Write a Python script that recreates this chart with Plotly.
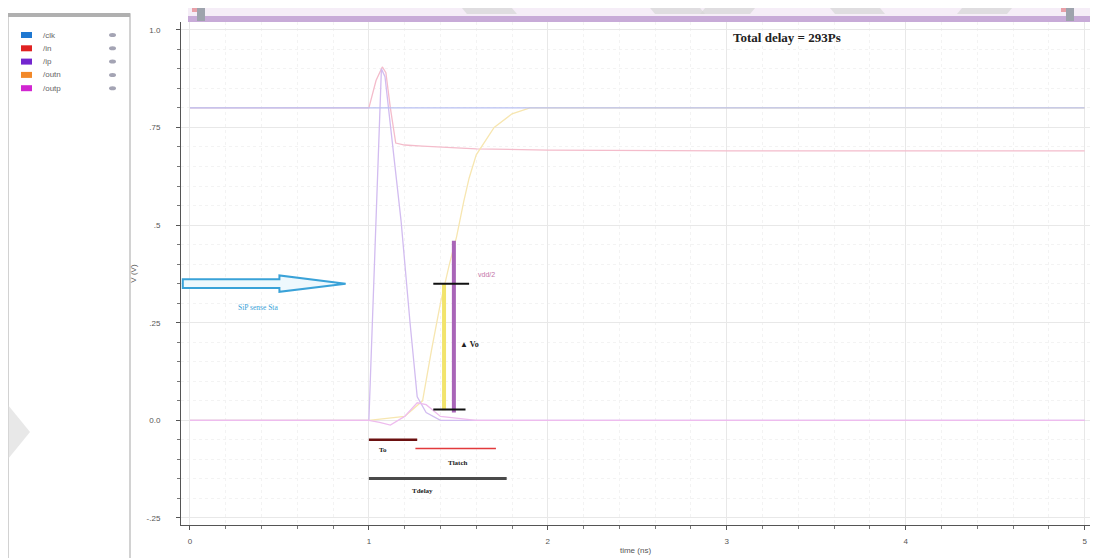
import plotly.graph_objects as go

# ---------------- data ----------------
names = ["/clk", "/in", "/ip", "/outn", "/outp"]
legend_colors = ["#1f78d1", "#e02222", "#7326cf", "#f2892a", "#d126d1"]
trace_colors = ["#b9c0f2", "#f4bccb", "#d2bcf0", "#f7e6b0", "#eebcee"]

t_clk = [0.0, 1.0, 1.1, 2.0, 5.0]
v_clk = [0.8, 0.8, 0.8, 0.8, 0.8]

t_in = [0.0, 1.0, 1.04, 1.075, 1.095, 1.12, 1.15, 1.2, 1.3, 1.6, 2.0, 3.0, 5.0]
v_in = [0.8, 0.8, 0.87, 0.905, 0.89, 0.80, 0.71, 0.705, 0.702, 0.695, 0.692, 0.69, 0.69]

t_ip = [0.0, 0.99, 1.0, 1.035, 1.07, 1.09, 1.13, 1.18, 1.23, 1.27, 1.32, 1.4, 5.0]
v_ip = [0.0, 0.0, 0.0, 0.45, 0.9, 0.88, 0.72, 0.51, 0.25, 0.06, 0.02, 0.0, 0.0]

t_outn = [0.0, 1.0, 1.2, 1.3, 1.35, 1.4, 1.45, 1.49, 1.53, 1.56, 1.6, 1.7, 1.8, 1.9, 2.0, 5.0]
v_outn = [0.0, 0.0, 0.01, 0.05, 0.18, 0.30, 0.40, 0.47, 0.56, 0.62, 0.68, 0.75, 0.785, 0.8, 0.8, 0.8]

t_outp = [0.0, 1.0, 1.06, 1.12, 1.2, 1.27, 1.32, 1.4, 1.6, 5.0]
v_outp = [0.0, 0.0, -0.005, -0.012, 0.01, 0.045, 0.04, 0.01, 0.0, 0.0]

series_t = [t_clk, t_in, t_ip, t_outn, t_outp]
series_v = [v_clk, v_in, v_ip, v_outn, v_outp]
draw_order = [1, 3, 2, 4, 0]   # /clk drawn last so the 0.8 V level shows its colour

y_tickvals = [-0.25, 0.0, 0.25, 0.5, 0.75, 1.0]
y_ticktext = ["-.25", "0.0", ".25", ".5", ".75", "1.0"]
x_tickvals = [0, 1, 2, 3, 4, 5]
x_ticktext = ["0", "1", "2", "3", "4", "5"]

# measurement marks (time ns, volts)
vbar_t = [1.42, 1.475]
vbar_v0 = [0.026, 0.02]
vbar_v1 = [0.35, 0.46]
vbar_col = ["#f2e46c", "#a965b8"]

hmark_v = [0.35, 0.028]
hmark_t0 = [1.36, 1.36]
hmark_t1 = [1.56, 1.54]

span_names = ["To", "Tlatch", "Tdelay"]
span_v = [-0.05, -0.072, -0.149]
span_t0 = [1.0, 1.26, 1.0]
span_t1 = [1.27, 1.71, 1.77]
span_col = ["#6b1010", "#e23a3c", "#4a4a4a"]
span_w = [2.5, 1.5, 3]
span_label_t = [1.08, 1.50, 1.30]
span_label_v = [-0.076, -0.108, -0.18]

# ---------------- figure ----------------
OFF = 8                      # page body margin
W, H = 1105 - OFF, 558 - OFF
L, R, T, B = 181, 1090, 22, 525   # plot area in page pixels


def px(xp):
    return (xp - L) / (R - L)


def py(yp):
    return (B - yp) / (B - T)


fig = go.Figure()
for i in draw_order:
    fig.add_trace(go.Scatter(x=series_t[i], y=series_v[i], mode="lines", name=names[i],
                             line=dict(color=trace_colors[i], width=1.3), showlegend=False,
                             hoverinfo="skip"))

shapes = []
annotations = []

# left legend panel
shapes.append(dict(type="rect", xref="paper", yref="paper",
                   x0=px(8), x1=px(130), y0=py(560), y1=py(14),
                   fillcolor="white", line=dict(color="#c4c4c4", width=1.5)))
shapes.append(dict(type="rect", xref="paper", yref="paper",
                   x0=px(8), x1=px(130), y0=py(17), y1=py(13),
                   fillcolor="#b0b0b0", line=dict(width=0)))

# top scroll/overview strip
shapes.append(dict(type="rect", xref="paper", yref="paper",
                   x0=px(188), x1=px(1090), y0=py(22), y1=py(8),
                   fillcolor="#f5edf7", line=dict(width=0)))
shapes.append(dict(type="rect", xref="paper", yref="paper",
                   x0=px(188), x1=px(1090), y0=py(22), y1=py(16),
                   fillcolor="#c8abd8", line=dict(width=0)))
for x0 in (197, 1066):
    shapes.append(dict(type="rect", xref="paper", yref="paper",
                       x0=px(x0), x1=px(x0 + 8), y0=py(21), y1=py(8),
                       fillcolor="#9ea3ad", line=dict(width=0)))
    shapes.append(dict(type="rect", xref="paper", yref="paper",
                       x0=px(x0 - 5), x1=px(x0), y0=py(12), y1=py(8),
                       fillcolor="#e8a0a8", line=dict(width=0)))

# watermark-like grey bands at the top
for (x0, d) in [(462, 1), (650, 1), (705, -1), (830, 1), (962, -1)]:
    if d == 1:
        pts = [(x0, 8), (x0 + 50, 8), (x0 + 55, 14), (x0 + 5, 14)]
    else:
        pts = [(x0, 8), (x0 + 50, 8), (x0 + 45, 14), (x0 - 5, 14)]
    path = "M " + " L ".join(f"{px(a):.4f},{py(b):.4f}" for a, b in pts) + " Z"
    shapes.append(dict(type="path", xref="paper", yref="paper", path=path,
                       fillcolor="#d6d6d6", opacity=0.7, line=dict(width=0)))

# legend entries (custom, compact like the viewer)
for i, (n, c) in enumerate(zip(names, legend_colors)):
    yc = 35 + i * 13.3
    shapes.append(dict(type="rect", xref="paper", yref="paper",
                       x0=px(21), x1=px(32), y0=py(yc + 3), y1=py(yc - 3),
                       fillcolor=c, line=dict(width=0)))
    annotations.append(dict(xref="paper", yref="paper", x=px(41), y=py(yc),
                            text=n, showarrow=False, xanchor="left", yanchor="middle",
                            font=dict(size=8, color="#666", family="Liberation Sans")))
    shapes.append(dict(type="circle", xref="paper", yref="paper",
                       x0=px(109), x1=px(116), y0=py(yc + 2), y1=py(yc - 2),
                       fillcolor="#a4a4b4", line=dict(width=0)))

# hollow blue arrow
ay, sh, hh = 0.35, 0.011, 0.021
arrow = [(-0.04, ay - sh), (0.50, ay - sh), (0.50, ay - hh), (0.87, ay),
         (0.50, ay + hh), (0.50, ay + sh), (-0.04, ay + sh)]
shapes.append(dict(type="path", xref="x", yref="y",
                   path="M " + " L ".join(f"{a},{b}" for a, b in arrow) + " Z",
                   fillcolor="#eef8fd", line=dict(color="#3aa2d8", width=2)))
annotations.append(dict(x=0.38, y=0.29, xref="x", yref="y", text="SiP sense Sta",
                        showarrow=False, font=dict(size=7.5, color="#3aa2d8",
                                                   family="Liberation Serif")))

# vertical measurement bars
for t, v0, v1, c in zip(vbar_t, vbar_v0, vbar_v1, vbar_col):
    shapes.append(dict(type="line", xref="x", yref="y", x0=t, x1=t, y0=v0, y1=v1,
                       line=dict(color=c, width=4)))
for v, t0, t1 in zip(hmark_v, hmark_t0, hmark_t1):
    shapes.append(dict(type="line", xref="x", yref="y", x0=t0, x1=t1, y0=v, y1=v,
                       line=dict(color="#111", width=2)))

# timing spans
for nm, v, t0, t1, c, w, lt, lv in zip(span_names, span_v, span_t0, span_t1,
                                      span_col, span_w, span_label_t, span_label_v):
    shapes.append(dict(type="line", xref="x", yref="y", x0=t0, x1=t1, y0=v, y1=v,
                       line=dict(color=c, width=w)))
    annotations.append(dict(x=lt, y=lv, xref="x", yref="y", text=f"<b>{nm}</b>",
                            showarrow=False, font=dict(size=7, color="#222",
                                                       family="Liberation Serif")))

annotations.append(dict(x=1.66, y=0.374, xref="x", yref="y", text="vdd/2",
                        showarrow=False, font=dict(size=7, color="#c474a8",
                                                   family="Liberation Sans")))
annotations.append(dict(x=1.565, y=0.195, xref="x", yref="y", text="<b>▲ Vo</b>",
                        showarrow=False, font=dict(size=8, color="#222",
                                                   family="Liberation Serif")))
annotations.append(dict(x=3.335, y=0.98, xref="x", yref="y",
                        text="<b>Total delay = 293Ps</b>", showarrow=False,
                        font=dict(size=13, color="#222", family="Liberation Serif")))

# left chevron watermark
chev = [(8, 405), (30, 432), (8, 459)]
shapes.append(dict(type="path", xref="paper", yref="paper",
                   path="M " + " L ".join(f"{px(a):.4f},{py(b):.4f}" for a, b in chev) + " Z",
                   fillcolor="#d8d8d8", opacity=0.6, line=dict(width=0)))

axis_font = dict(size=8, color="#555", family="Liberation Sans")
fig.update_layout(
    width=W, height=H,
    margin=dict(l=L - OFF, r=1105 - R, t=T - OFF, b=558 - B, autoexpand=False),
    paper_bgcolor="white", plot_bgcolor="white",
    shapes=shapes, annotations=annotations,
    xaxis=dict(range=[-0.05, 5.03], tickvals=x_tickvals, ticktext=x_ticktext,
               showline=True, linecolor="#555", linewidth=1,
               ticks="outside", ticklen=4, tickcolor="#555",
               tickfont=axis_font, ticklabelstandoff=4,
               showgrid=True, gridcolor="#e8e8e8", gridwidth=1, zeroline=False,
               minor=dict(dtick=0.2, ticks="outside", ticklen=3, tickcolor="#777",
                          showgrid=True, gridcolor="#f3f3f3", griddash="dot"),
               title=dict(text="time (ns)", font=axis_font, standoff=2)),
    yaxis=dict(range=[-0.268, 1.02], tickvals=y_tickvals, ticktext=y_ticktext,
               showline=True, linecolor="#555", linewidth=1,
               ticks="outside", ticklen=4, tickcolor="#555",
               tickfont=axis_font, ticklabelstandoff=14,
               showgrid=True, gridcolor="#e8e8e8", gridwidth=1, zeroline=False,
               minor=dict(dtick=0.05, ticks="outside", ticklen=3, tickcolor="#777",
                          showgrid=True, gridcolor="#f3f3f3", griddash="dot"),
               title=dict(text="V (V)", font=axis_font, standoff=8)),
)

fig.write_html("out.html")
